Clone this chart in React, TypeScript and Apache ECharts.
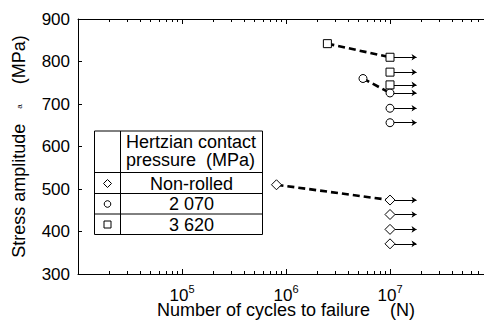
import React, { useEffect, useRef } from "react";
import * as echarts from "echarts";

// ---- data (cycles to failure N, stress amplitude MPa) ----
const nonRolledCycles = [8.1e5, 1e7, 1e7, 1e7, 1e7];
const nonRolledStress = [510, 474, 440, 405, 371];
const p2070Cycles = [5.5e6, 1e7, 1e7, 1e7];
const p2070Stress = [760, 726, 690, 656];
const p3620Cycles = [2.5e6, 1e7, 1e7, 1e7];
const p3620Stress = [842, 810, 775, 745];
const runoutCycles = 1e7;
const arrowEndCycles = 1.8e7;

// ---- axes ----
const xMinExp = 4;
const xMaxExp = 8;
const labeledExponents = [5, 6, 7];
const minorMultipliers = [2, 3, 4, 5, 6, 7, 8, 9];
const minorDecades = [4, 5, 6, 7];
const yMin = 300;
const yMax = 900;
const yStep = 100;

// ---- legend table text ----
const legendHeader = ["Hertzian contact", "pressure  (MPa)"];
const legendRows = ["Non-rolled", "2 070", "3 620"];

const FONT = "'Liberation Sans', Arial, Helvetica, sans-serif";
const lg = (v: number) => Math.log10(v);

const minorTicks: number[] = [];
minorDecades.forEach((d) =>
  minorMultipliers.forEach((m) => minorTicks.push(lg(m * Math.pow(10, d))))
);

function pts(c: number[], s: number[]) {
  return c.map((v, i) => [lg(v), s[i]]);
}

export default function App() {
  const ref = useRef<HTMLDivElement>(null);
  useEffect(() => {
    if (!ref.current) return;
    const chart = echarts.init(ref.current, null, { renderer: "svg" });
    const black = "#000";
    const baseX: any = {
      type: "value",
      min: xMinExp,
      max: xMaxExp,
      interval: 1,
      splitLine: { show: false },
    };
    const majorX = (pos: string, labels: boolean) => ({
      ...baseX,
      position: pos,
      axisLine: { show: true, onZero: false, lineStyle: { color: black, width: 1 } },
      axisTick: { show: true, inside: true, length: 5, lineStyle: { color: black, width: 1 } },
      axisLabel: labels
        ? {
            show: true,
            margin: 9,
            color: black,
            formatter: (v: number) =>
              labeledExponents.indexOf(v) >= 0 ? `{b|10}{s|${v}}` : "",
            rich: {
              b: { fontSize: 17, fontFamily: FONT, color: black, lineHeight: 12, padding: [4, 0, 0, 0], verticalAlign: "top" },
              s: { fontSize: 11, fontFamily: FONT, color: black, lineHeight: 10, verticalAlign: "top" },
            },
          }
        : { show: false },
    });
    const minorX = (pos: string) => ({
      ...baseX,
      position: pos,
      axisLine: { show: false },
      axisTick: {
        show: true,
        inside: true,
        length: 3,
        customValues: minorTicks,
        lineStyle: { color: black, width: 1 },
      },
      axisLabel: { show: false },
    });

    const groups = [
      { c: nonRolledCycles, s: nonRolledStress, sym: "diamond", size: 10 },
      { c: p2070Cycles, s: p2070Stress, sym: "circle", size: 8 },
      { c: p3620Cycles, s: p3620Stress, sym: "rect", size: 8 },
    ];

    const series: any[] = [];
    const runouts: any[] = [];
    groups.forEach((g) => {
      const p = pts(g.c, g.s);
      series.push({
        type: "line",
        data: [p[0], p[1]],
        symbol: "none",
        silent: true,
        z: 2,
        lineStyle: { color: black, width: 2.6, type: [7, 4] },
      });
      series.push({
        type: "scatter",
        data: p,
        symbol: g.sym,
        symbolSize: g.size,
        silent: true,
        z: 4,
        itemStyle: { color: "#fff", borderColor: black, borderWidth: 1, opacity: 1 },
      });
      g.c.forEach((c, i) => {
        if (c >= runoutCycles)
          runouts.push({ coords: [[lg(c), g.s[i]], [lg(arrowEndCycles), g.s[i]]] });
      });
    });
    series.push({
      type: "lines",
      coordinateSystem: "cartesian2d",
      data: runouts,
      symbol: ["none", "arrow"],
      symbolSize: 5,
      silent: true,
      z: 1,
      lineStyle: { color: black, width: 1, opacity: 1, curveness: 0 },
    });

    // legend table (layout only)
    const L = 94.5, R = 262.5, T = 131, B = 234.5, C = 120.5;
    const rowLines = [172.5, 193.5, 214];
    const rowCenters = [183.5, 204, 224.5];
    const lineStyle = { stroke: black, lineWidth: 1 };
    const graphic: any[] = [
      { type: "rect", shape: { x: L, y: T, width: R - L, height: B - T }, style: { fill: "#fff", stroke: black, lineWidth: 1 }, z: 10 },
      { type: "line", shape: { x1: C, y1: T, x2: C, y2: B }, style: lineStyle, z: 11 },
      ...rowLines.map((y) => ({ type: "line", shape: { x1: L, y1: y, x2: R, y2: y }, style: lineStyle, z: 11 })),
      {
        type: "text",
        x: 126,
        y: 151,
        z: 11,
        style: {
          text: legendHeader.join("\n"),
          fill: black,
          font: `18px ${FONT}`,
          lineHeight: 18.5,
          align: "left",
          verticalAlign: "middle",
        },
      },
      ...legendRows.map((t, i) => ({
        type: "text",
        x: (C + R) / 2,
        y: rowCenters[i],
        z: 11,
        style: { text: t, fill: black, font: `18px ${FONT}`, align: "center", verticalAlign: "middle" },
      })),
      { type: "polygon", z: 11, shape: { points: [[107.5, rowCenters[0] - 4], [111.5, rowCenters[0]], [107.5, rowCenters[0] + 4], [103.5, rowCenters[0]]] }, style: { fill: "#fff", stroke: black, lineWidth: 1 } },
      { type: "circle", z: 11, shape: { cx: 107.5, cy: rowCenters[1], r: 3.3 }, style: { fill: "#fff", stroke: black, lineWidth: 1 } },
      { type: "rect", z: 11, shape: { x: 104, y: rowCenters[2] - 3.5, width: 7, height: 7 }, style: { fill: "#fff", stroke: black, lineWidth: 1 } },
    ];

    chart.setOption({
      animation: false,
      backgroundColor: "#fff",
      textStyle: { fontFamily: FONT, color: black },
      grid: { left: 78, top: 19, bottom: 46, right: -10, containLabel: false, outerBoundsMode: "none" },
      xAxis: [
        {
          ...majorX("bottom", true),
          name: "Number of cycles to failure    (N)",
          nameLocation: "middle",
          nameGap: 29,
          nameMoveOverlap: false,
          nameTextStyle: { fontSize: 18, fontFamily: FONT, color: black, lineHeight: 14 },
        },
        minorX("bottom"),
        majorX("top", false),
        minorX("top"),
      ],
      yAxis: {
        type: "value",
        min: yMin,
        max: yMax,
        interval: yStep,
        splitLine: { show: false },
        axisLine: { show: true, onZero: false, lineStyle: { color: black, width: 1 } },
        axisTick: { show: true, inside: true, length: 4, lineStyle: { color: black } },
        axisLabel: { color: black, fontSize: 17, fontFamily: FONT, margin: 8 },
        name: "{n|Stress amplitude   }{s|a}{n|    (MPa)}",
        nameLocation: "middle",
        nameGap: 50,
        nameMoveOverlap: false,
        nameRotate: 90,
        nameTextStyle: {
          color: black,
          fontFamily: FONT,
          fontSize: 18,
          rich: {
            n: { fontSize: 18, fontFamily: FONT, color: black },
            s: { fontSize: 8, fontFamily: FONT, color: black },
          },
        },
      },
      series,
      graphic,
    });
    return () => chart.dispose();
  }, []);
  return (
    <div
      ref={ref}
      style={{ position: "absolute", left: 0, top: 0, width: 484, height: 320, background: "#fff" }}
    />
  );
}
